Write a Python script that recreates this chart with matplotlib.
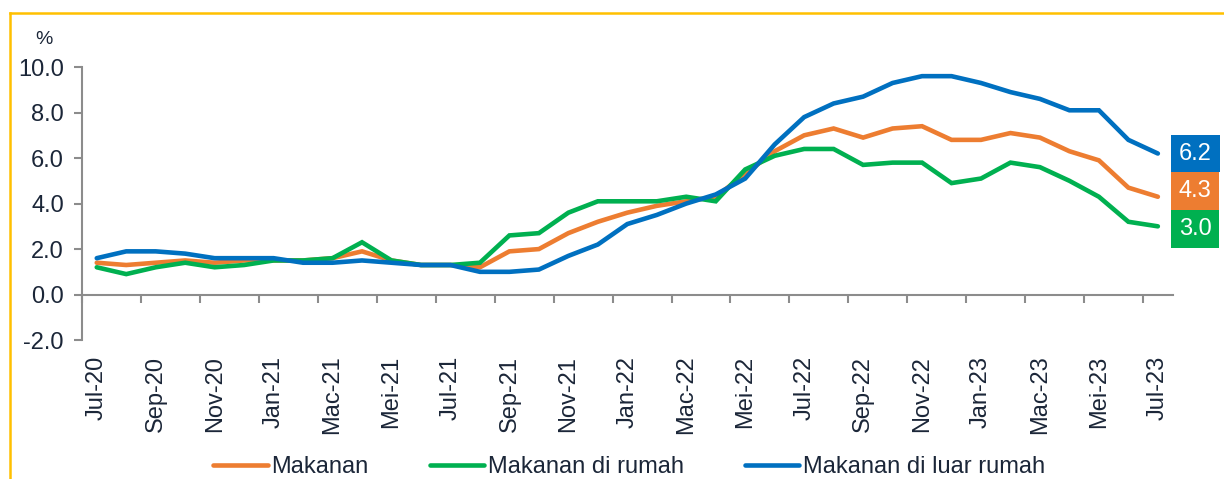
import matplotlib
matplotlib.use("Agg")
import matplotlib.pyplot as plt
import matplotlib.transforms as mtransforms
from matplotlib.lines import Line2D
import numpy as np

plt.rcParams['font.family'] = ['Liberation Sans', 'DejaVu Sans']

# Data: inflasi bulanan (% yoy), Jul-20 s.d. Jul-23
makanan = [1.4, 1.3, 1.4, 1.5, 1.4, 1.5, 1.5, 1.5, 1.6, 1.9,
           1.5, 1.3, 1.3, 1.2, 1.9, 2.0, 2.7, 3.2, 3.6, 3.9,
           4.1, 4.3, 5.3, 6.3, 7.0, 7.3, 6.9, 7.3, 7.4, 6.8,
           6.8, 7.1, 6.9, 6.3, 5.9, 4.7, 4.3]
di_rumah = [1.2, 0.9, 1.2, 1.4, 1.2, 1.3, 1.5, 1.5, 1.6, 2.3,
            1.5, 1.3, 1.3, 1.4, 2.6, 2.7, 3.6, 4.1, 4.1, 4.1,
            4.3, 4.1, 5.5, 6.1, 6.4, 6.4, 5.7, 5.8, 5.8, 4.9,
            5.1, 5.8, 5.6, 5.0, 4.3, 3.2, 3.0]
luar_rumah = [1.6, 1.9, 1.9, 1.8, 1.6, 1.6, 1.6, 1.4, 1.4, 1.5,
              1.4, 1.3, 1.3, 1.0, 1.0, 1.1, 1.7, 2.2, 3.1, 3.5,
              4.0, 4.4, 5.1, 6.6, 7.8, 8.4, 8.7, 9.3, 9.6, 9.6,
              9.3, 8.9, 8.6, 8.1, 8.1, 6.8, 6.2]
tick_labels = ["Jul-20", "Sep-20", "Nov-20", "Jan-21", "Mac-21", "Mei-21",
               "Jul-21", "Sep-21", "Nov-21", "Jan-22", "Mac-22", "Mei-22",
               "Jul-22", "Sep-22", "Nov-22", "Jan-23", "Mac-23", "Mei-23",
               "Jul-23"]
series_names = ["Makanan", "Makanan di rumah", "Makanan di luar rumah"]

colors = ["#ED7D31", "#00B050", "#0070C0"]
txt_color = "#1B2638"
axis_gray = "#8C8C8C"
fs = 17

fig = plt.figure(figsize=(12.24, 4.79), dpi=100)
ax = fig.add_axes([0.067, 0.29, 0.891, 0.57])

x = np.arange(len(makanan))
handles = []
for vals, c, name in zip([makanan, di_rumah, luar_rumah], colors, series_names):
    h, = ax.plot(x, vals, color=c, lw=3.3, solid_capstyle="round",
                 solid_joinstyle="miter", label=name)
    handles.append(h)

ax.set_xlim(-0.5, len(x) - 0.5)
ax.set_ylim(-2, 10)
yt = np.arange(-2, 10.1, 2)
ax.set_yticks(yt)
ax.set_yticklabels([f"{v:.1f}" for v in yt])

ax.set_xticks(x[::2])
ax.set_xticklabels(tick_labels)
ax.set_xticks(x[::2] - 0.5, minor=True)

for s in ["top", "right"]:
    ax.spines[s].set_visible(False)
ax.spines["bottom"].set_position(("data", 0))
for s in ["left", "bottom"]:
    ax.spines[s].set_color(axis_gray)
    ax.spines[s].set_linewidth(1.5)

ax.tick_params(axis="y", direction="out", length=6, width=1.5,
               color=axis_gray, labelsize=fs, labelcolor=txt_color, pad=7)
ax.tick_params(axis="x", which="major", length=0, labelsize=fs,
               labelcolor=txt_color, pad=44, labelrotation=90)
ax.tick_params(axis="x", which="minor", direction="out", length=6,
               width=1.5, color=axis_gray)
plt.setp(ax.get_xticklabels(), va="top", ha="center")

ax.text(-0.035, 1.07, "%", transform=ax.transAxes, fontsize=14,
        color=txt_color, ha="center", va="bottom")

# label nilai terakhir
trans = mtransforms.blended_transform_factory(ax.transAxes, ax.transData)
offsets = [4, -2, 0]
for vals, c, off in zip([makanan, di_rumah, luar_rumah], colors, offsets):
    ax.annotate(f"{vals[-1]:.1f}", xy=(1.0, vals[-1]), xycoords=trans,
                xytext=(4.5, off), textcoords="offset points",
                ha="left", va="center", fontsize=fs, color="white",
                bbox=dict(boxstyle="square,pad=0.33", fc=c, ec="none"),
                annotation_clip=False)

leg = fig.legend(handles=handles, loc="center", bbox_to_anchor=(0.514, 0.025),
                 ncol=3, frameon=False, fontsize=fs, handlelength=2.3,
                 handletextpad=0.15, columnspacing=2.6)
for t in leg.get_texts():
    t.set_color(txt_color)

# bingkai kuning
frame_kw = dict(color="#FFC000", lw=1.8, transform=fig.transFigure)
fig.add_artist(Line2D([10 / 1224, 10 / 1224], [0, 1 - 13 / 479], **frame_kw))
fig.add_artist(Line2D([10 / 1224, 1], [1 - 13 / 479, 1 - 13 / 479], **frame_kw))

fig.savefig("out.png", dpi=100)
